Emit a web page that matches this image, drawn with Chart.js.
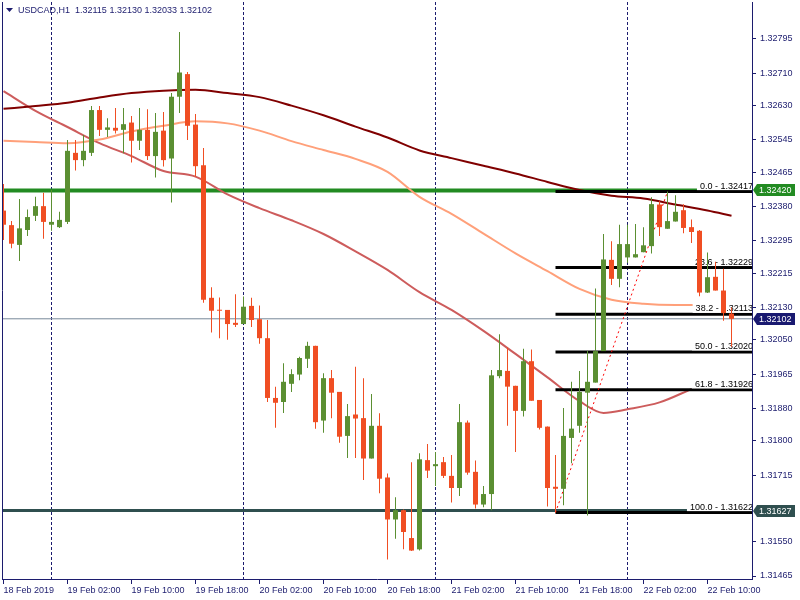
<!DOCTYPE html>
<html>
<head>
<meta charset="utf-8">
<script src="https://cdn.jsdelivr.net/npm/chart.js@4.4.0/dist/chart.umd.min.js"></script>
<style>
  html, body { margin: 0; padding: 0; background: #fff; }
  canvas { display: block; }
</style>
</head>
<body>
<canvas id="chart" width="800" height="600"></canvas>
<script>
// USDCAD H1 candles, index 0 = 18 Feb 2019 18:00, one per hour
const opens = [
  1.32370, 1.32334, 1.32285, 1.32322, 1.32357, 1.32381, 1.32335, 1.32329, 1.32342, 1.32513,
  1.32495, 1.32513, 1.32619, 1.32570, 1.32575, 1.32570, 1.32588, 1.32543, 1.32570, 1.32505,
  1.32568, 1.32499, 1.32652, 1.32708, 1.32583, 1.32482, 1.32154, 1.32124, 1.32124, 1.32092,
  1.32089, 1.32134, 1.32101, 1.32054, 1.31906, 1.31896, 1.31941, 1.31964, 1.32003, 1.32035,
  1.31850, 1.31955, 1.31921, 1.31812, 1.31865, 1.31856, 1.31756, 1.31837, 1.31709, 1.31605,
  1.31628, 1.31559, 1.31531, 1.31752, 1.31737, 1.31747, 1.31713, 1.31683, 1.31845, 1.31723,
  1.31642, 1.31668, 1.31960, 1.31973, 1.31936, 1.31874, 1.31997, 1.31901, 1.31835, 1.31686,
  1.31681, 1.31807, 1.31837, 1.31919, 1.31944, 1.32022, 1.32248, 1.32201, 1.32254, 1.32254,
  1.32267, 1.32282, 1.32385, 1.32325, 1.32343, 1.32371, 1.32329, 1.32320, 1.32167, 1.32206,
  1.32172, 1.32115
];
const highs = [
  1.32436, 1.32344, 1.32399, 1.32373, 1.32404, 1.32414, 1.32421, 1.32367, 1.32545, 1.32545,
  1.32557, 1.32629, 1.32629, 1.32599, 1.32624, 1.32624, 1.32604, 1.32624, 1.32621, 1.32612,
  1.32614, 1.32661, 1.32812, 1.32713, 1.32609, 1.32525, 1.32180, 1.32155, 1.32124, 1.32163,
  1.32157, 1.32154, 1.32135, 1.32099, 1.31934, 1.31992, 1.31977, 1.32008, 1.32045, 1.32035,
  1.31967, 1.31975, 1.31921, 1.31891, 1.31983, 1.31955, 1.31916, 1.31868, 1.31719, 1.31660,
  1.31630, 1.31747, 1.31769, 1.31792, 1.31772, 1.31760, 1.31765, 1.31891, 1.31850, 1.31751,
  1.31688, 1.31975, 1.32064, 1.32031, 1.31936, 1.32028, 1.32026, 1.31901, 1.31835, 1.31765,
  1.31881, 1.31946, 1.31973, 1.32022, 1.32177, 1.32312, 1.32294, 1.32335, 1.32335, 1.32337,
  1.32329, 1.32403, 1.32393, 1.32417, 1.32408, 1.32386, 1.32348, 1.32322, 1.32266, 1.32243,
  1.32226, 1.32130
];
const lows = [
  1.32297, 1.32277, 1.32245, 1.32307, 1.32344, 1.32300, 1.32320, 1.32327, 1.32337, 1.32469,
  1.32480, 1.32505, 1.32555, 1.32552, 1.32561, 1.32512, 1.32489, 1.32520, 1.32495, 1.32452,
  1.32479, 1.32390, 1.32612, 1.32545, 1.32454, 1.32142, 1.32068, 1.32054, 1.32050, 1.32082,
  1.32089, 1.32082, 1.32040, 1.31896, 1.31832, 1.31869, 1.31921, 1.31950, 1.31980, 1.31830,
  1.31820, 1.31856, 1.31795, 1.31757, 1.31757, 1.31703, 1.31756, 1.31670, 1.31506, 1.31557,
  1.31531, 1.31527, 1.31528, 1.31708, 1.31688, 1.31708, 1.31647, 1.31663, 1.31716, 1.31632,
  1.31635, 1.31628, 1.31955, 1.31837, 1.31772, 1.31860, 1.31899, 1.31828, 1.31637, 1.31622,
  1.31640, 1.31744, 1.31820, 1.31615, 1.31944, 1.32022, 1.32186, 1.32180, 1.32241, 1.32254,
  1.32267, 1.32264, 1.32307, 1.32325, 1.32343, 1.32314, 1.32290, 1.32158, 1.32166, 1.32172,
  1.32097, 1.32033
];
const closes = [
  1.32335, 1.32288, 1.32326, 1.32354, 1.32381, 1.32342, 1.32342, 1.32347, 1.32518, 1.32495,
  1.32518, 1.32619, 1.32570, 1.32576, 1.32568, 1.32584, 1.32543, 1.32570, 1.32505, 1.32565,
  1.32495, 1.32652, 1.32712, 1.32580, 1.32480, 1.32149, 1.32122, 1.32122, 1.32089, 1.32087,
  1.32132, 1.32099, 1.32054, 1.31906, 1.31894, 1.31946, 1.31965, 1.32005, 1.32035, 1.31846,
  1.31955, 1.31919, 1.31810, 1.31861, 1.31855, 1.31756, 1.31837, 1.31706, 1.31605, 1.31628,
  1.31574, 1.31528, 1.31754, 1.31726, 1.31742, 1.31713, 1.31683, 1.31846, 1.31721, 1.31642,
  1.31668, 1.31962, 1.31975, 1.31934, 1.31874, 1.31997, 1.31899, 1.31832, 1.31683, 1.31681,
  1.31812, 1.31830, 1.31921, 1.31946, 1.32022, 1.32249, 1.32201, 1.32287, 1.32287, 1.32262,
  1.32284, 1.32386, 1.32329, 1.32344, 1.32367, 1.32327, 1.32317, 1.32167, 1.32205, 1.32172,
  1.32116, 1.32102
];

// axis labels
const timeTickIdx = [0, 8, 16, 24, 32, 40, 48, 56, 64, 72, 80, 88];
const timeLabels = ["18 Feb 2019", "19 Feb 02:00", "19 Feb 10:00", "19 Feb 18:00", "20 Feb 02:00", "20 Feb 10:00",
  "20 Feb 18:00", "21 Feb 02:00", "21 Feb 10:00", "21 Feb 18:00", "22 Feb 02:00", "22 Feb 10:00"];
const dayBreaks = [6, 30, 54, 78];
const priceTicks = [1.32795, 1.32710, 1.32630, 1.32545, 1.32465, 1.32380, 1.32295, 1.32215, 1.32130,
  1.32050, 1.31965, 1.31880, 1.31800, 1.31715, 1.31550, 1.31465];

// moving averages (read at these candle indexes)
const maIdx = [0, 4, 8, 12, 16, 20, 24, 28, 32, 36, 40, 44, 48, 52, 56, 60, 64, 68, 72, 76, 80, 84, 88, 91];
const maSlow = [1.32622, 1.32629, 1.32637, 1.32650, 1.32661, 1.32667, 1.32669, 1.32661, 1.32651, 1.32630,
  1.32606, 1.32578, 1.32551, 1.32519, 1.32500, 1.32481, 1.32462, 1.32441, 1.32421, 1.32407,
  1.32400, 1.32385, 1.32370, 1.32357];
const maMid = [1.32543, 1.32540, 1.32537, 1.32546, 1.32566, 1.32580, 1.32591, 1.32586, 1.32568, 1.32542,
  1.32520, 1.32498, 1.32466, 1.32404, 1.32362, 1.32313, 1.32264, 1.32220, 1.32176, 1.32149,
  1.32139, 1.32136, 1.32136, 1.32135];
const maFastIdx = [0, 4, 8, 12, 16, 20, 24, 28, 32, 36, 40, 44, 48, 52, 56, 60, 64, 68, 72, 75, 78, 82, 86];
const maFast = [1.32666, 1.32617, 1.32577, 1.32537, 1.32505, 1.32468, 1.32454, 1.32410, 1.32376, 1.32346,
  1.32312, 1.32269, 1.32223, 1.32168, 1.32124, 1.32072, 1.32015, 1.31957, 1.31898, 1.31869,
  1.31878, 1.31895, 1.31928];

// fibonacci retracement drawn from candle 69 (low) to candle 83 (high)
const fibPct = ["0.0", "23.6", "38.2", "50.0", "61.8", "100.0"];
const fibPrice = [1.32417, 1.32229, 1.32113, 1.32020, 1.31926, 1.31622];
const fibStart = 69;
const trendIdx = [69, 83];
const trendPrice = [1.31622, 1.32417];

// horizontal levels
const greenLevel = 1.32420;
const slateLevel = 1.31627;
const bidLevel = 1.32102;
const titleText = "USDCAD,H1  1.32115 1.32130 1.32033 1.32102";

const X_MIN = -0.1875, X_MAX = 93.5625;
const Y_MIN = 1.314576, Y_MAX = 1.328866;
const UP = "#5b8f32", DOWN = "#f04e23";
const NAVY = "#1c1c6e";
const FONT = '"Liberation Sans", Arial, sans-serif';

const candleColors = closes.map((c, i) => c >= opens[i] ? UP : DOWN);
const bodies = closes.map((c, i) => ({ x: i, y: [opens[i], c] }));
const wicks = highs.map((h, i) => ({ x: i, y: [lows[i], h] }));

function hLine(price, from, color, width, order) {
  return {
    type: "line", data: [{ x: from, y: price }, { x: X_MAX, y: price }],
    borderColor: color, borderWidth: width, pointRadius: 0, order: order
  };
}
function maLine(idx, vals, color) {
  return {
    type: "line", data: idx.map((k, i) => ({ x: k, y: vals[i] })),
    borderColor: color, borderWidth: 2, pointRadius: 0, cubicInterpolationMode: "monotone", order: 4
  };
}

// ✅ extra drawing: day separators, fib labels, price boxes, title
const overlay = {
  id: "overlay",
  beforeDatasetsDraw(chart) {
    const { ctx, chartArea: a, scales: { x } } = chart;
    ctx.save();
    ctx.strokeStyle = NAVY;
    ctx.lineWidth = 1;
    ctx.setLineDash([3, 2]);
    dayBreaks.forEach(k => {
      const px = x.getPixelForValue(k);
      ctx.beginPath();
      ctx.moveTo(px, a.top);
      ctx.lineTo(px, a.bottom);
      ctx.stroke();
    });
    ctx.restore();
  },
  beforeDatasetDraw(chart, args) {
    if (args.index !== 1) return;
    const { ctx, chartArea: a, scales: { y } } = chart;
    ctx.save();
    ctx.beginPath();
    ctx.rect(a.left, a.top, a.right - a.left, a.bottom - a.top);
    ctx.clip();
    ctx.font = "9px " + FONT;
    fibPrice.forEach((p, i) => {
      const py = y.getPixelForValue(p);
      const txt = fibPct[i] + " - " + p.toFixed(5);
      const w = ctx.measureText(txt).width;
      ctx.fillStyle = "#fff";
      ctx.fillRect(a.right - w - 2, py - 10.5, w + 3, 9);
      ctx.fillStyle = "#000";
      ctx.textAlign = "right";
      ctx.textBaseline = "alphabetic";
      ctx.fillText(txt, a.right + 1, py - 3);
    });
    ctx.restore();
  },
  afterDraw(chart) {
    const { ctx, chartArea: a, scales: { y } } = chart;
    ctx.save();
    // left frame
    ctx.strokeStyle = NAVY;
    ctx.lineWidth = 1;
    ctx.beginPath();
    ctx.moveTo(a.left + 0.5, a.top);
    ctx.lineTo(a.left + 0.5, a.bottom);
    ctx.stroke();

    // price boxes on the axis
    ctx.font = "9px " + FONT;
    [[greenLevel, "#228b22"], [bidLevel, "#191970"], [slateLevel, "#2f4f4f"]].forEach(([p, col]) => {
      const py = Math.round(y.getPixelForValue(p));
      ctx.fillStyle = col;
      ctx.beginPath();
      ctx.moveTo(a.right + 1, py);
      ctx.lineTo(a.right + 5, py - 6);
      ctx.lineTo(795, py - 6);
      ctx.lineTo(795, py + 6);
      ctx.lineTo(a.right + 5, py + 6);
      ctx.closePath();
      ctx.fill();
      ctx.fillStyle = "#fff";
      ctx.textAlign = "left";
      ctx.textBaseline = "middle";
      ctx.fillText(p.toFixed(5), 759, py + 0.5);
    });

    // title
    ctx.fillStyle = NAVY;
    ctx.beginPath();
    ctx.moveTo(6, 8);
    ctx.lineTo(13, 8);
    ctx.lineTo(9.5, 12);
    ctx.closePath();
    ctx.fill();
    ctx.font = "9px " + FONT;
    ctx.textAlign = "left";
    ctx.textBaseline = "middle";
    ctx.fillText(titleText, 18, 10.5);
    ctx.restore();
  }
};

new Chart(document.getElementById("chart"), {
  type: "bar",
  data: {
    datasets: [
      { type: "bar", data: bodies, backgroundColor: candleColors, barThickness: 5, minBarLength: 1,
        grouped: false, inflateAmount: 0, borderWidth: 0, order: 0 },
      { type: "bar", data: wicks, backgroundColor: candleColors, barThickness: 1,
        grouped: false, inflateAmount: 0, borderWidth: 0, order: 1 },
      { type: "line", data: trendIdx.map((k, i) => ({ x: k, y: trendPrice[i] })),
        borderColor: "#ff0000", borderWidth: 1, borderDash: [2, 3], pointRadius: 0, order: 2 },
      ...fibPrice.map(p => hLine(p, fibStart, "#000000", 3, 3)),
      maLine(maIdx, maSlow, "#800000"),
      maLine(maIdx, maMid, "#ffa07a"),
      maLine(maFastIdx, maFast, "#cd5c5c"),
      hLine(greenLevel, X_MIN, "#228b22", 4, 5),
      hLine(slateLevel, X_MIN, "#2f4f4f", 3, 5),
      hLine(bidLevel, X_MIN, "#778899", 1, 5)
    ]
  },
  options: {
    responsive: false,
    devicePixelRatio: 1,
    animation: false,
    events: [],
    layout: { padding: { left: 2, top: 2, right: 0, bottom: 0 } },
    plugins: { legend: { display: false }, tooltip: { enabled: false } },
    scales: {
      x: {
        type: "linear", position: "bottom", min: X_MIN, max: X_MAX, offset: false,
        afterBuildTicks: s => { s.ticks = timeTickIdx.map(v => ({ value: v })); },
        afterFit: s => { s.height = 21; s.paddingLeft = 0; s.paddingRight = 0; },
        ticks: {
          callback: (v, i) => timeLabels[i], align: "start", autoSkip: false, maxRotation: 0,
          padding: 1, color: NAVY, font: { family: FONT, size: 9 }
        },
        grid: { offset: false, drawOnChartArea: false, drawTicks: true, tickLength: 5, color: NAVY },
        border: { color: NAVY, width: 1 }
      },
      y: {
        type: "linear", position: "right", min: Y_MIN, max: Y_MAX, beginAtZero: false,
        afterBuildTicks: s => { s.ticks = priceTicks.map(v => ({ value: v })); },
        afterFit: s => { s.width = 48; s.paddingTop = 0; s.paddingBottom = 0; },
        ticks: {
          callback: v => v.toFixed(5), autoSkip: false, padding: 4, color: NAVY,
          font: { family: FONT, size: 9 }
        },
        grid: { drawOnChartArea: false, drawTicks: true, tickLength: 4, color: NAVY },
        border: { color: NAVY, width: 1 }
      }
    }
  },
  plugins: [overlay]
});
</script>
</body>
</html>
